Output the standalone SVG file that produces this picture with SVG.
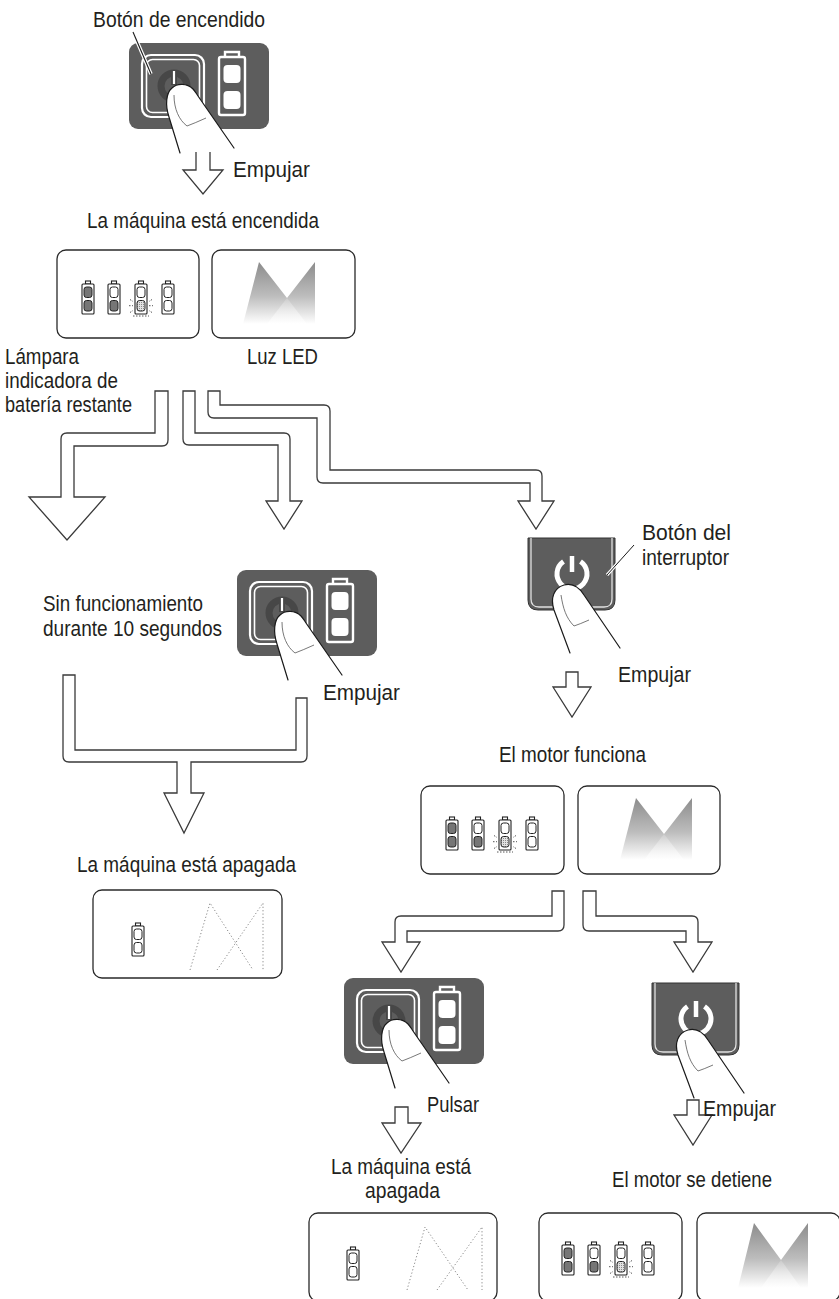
<svg xmlns="http://www.w3.org/2000/svg" xmlns:xlink="http://www.w3.org/1999/xlink" width="839" height="1299" viewBox="0 0 839 1299">
  <style>
    .t { font-family: "Liberation Sans", Arial, sans-serif; font-size: 22.5px; fill: #231f20; }
    .arrow { fill: #fff; stroke: #3a3a3a; stroke-width: 1.3; stroke-linejoin: miter; }
    .frame { fill: #fff; stroke: #2a2a2a; stroke-width: 1.3; }
    .finger { fill: #fff; stroke: none; }
    .finger-line { fill: none; stroke: #1a1a1a; stroke-width: 1.2; stroke-linecap: round; stroke-linejoin: round; }
    .nail { fill: none; stroke: #555; stroke-width: 0.8; }
    .dark { fill: #5d5d5d; }
    .wline { fill: none; stroke: #fff; }
    .dot { fill: none; stroke: #8a8a8a; stroke-width: 1; stroke-dasharray: 1.2 2.2; }
    .bt { fill: #fff; stroke: #222; stroke-width: 1.1; }
    .cell-on { fill: #767676; stroke: #222; stroke-width: 1; }
    .cell-off { fill: #fff; stroke: #222; stroke-width: 1; }
    .ray { fill: none; stroke: #444; stroke-width: 0.9; stroke-dasharray: 1.5 1.5; }
  </style>
  <defs>
    <linearGradient id="beam" x1="0" y1="0" x2="0" y2="1">
      <stop offset="0" stop-color="#8c8c8c"/>
      <stop offset="0.55" stop-color="#bdbdbd"/>
      <stop offset="1" stop-color="#ffffff"/>
    </linearGradient>
    <linearGradient id="beam-core" x1="0" y1="0" x2="0" y2="1">
      <stop offset="0" stop-color="#ffffff" stop-opacity="0.15"/>
      <stop offset="1" stop-color="#ffffff" stop-opacity="0.6"/>
    </linearGradient>
    <pattern id="stipple" width="2" height="2" patternUnits="userSpaceOnUse">
      <rect width="2" height="2" fill="#e2e2e2"/>
      <rect width="1" height="1" fill="#8a8a8a"/>
    </pattern>

    <!-- battery frame: body 12x30 with terminal nub -->
    <g id="bt-frame">
      <rect class="bt" x="3.5" y="-3" width="5" height="3"/>
      <rect class="bt" x="0" y="0" width="12" height="30" rx="1"/>
    </g>
    <g id="bt-full">
      <use xlink:href="#bt-frame"/>
      <rect class="cell-on" x="2" y="3" width="8" height="10.5" rx="2.5"/>
      <rect class="cell-on" x="2" y="16.5" width="8" height="10.5" rx="2.5"/>
    </g>
    <g id="bt-half">
      <use xlink:href="#bt-frame"/>
      <rect class="cell-off" x="2" y="3" width="8" height="10.5" rx="2.5"/>
      <rect class="cell-on" x="2" y="16.5" width="8" height="10.5" rx="2.5"/>
    </g>
    <g id="bt-blink">
      <use xlink:href="#bt-frame"/>
      <rect class="cell-off" x="2" y="3" width="8" height="10.5" rx="2.5"/>
      <rect x="2" y="16.5" width="8" height="10.5" rx="2.5" fill="url(#stipple)" stroke="#222" stroke-width="1"/>
      <path class="ray" d="M-6,21.7 H-2 M14,21.7 H18 M-5,15.5 L-2,17.5 M17,15.5 L14,17.5 M-5,28.5 L-2,26.5 M17,28.5 L14,26.5 M-2,32 H14"/>
    </g>
    <g id="bt-empty">
      <use xlink:href="#bt-frame"/>
      <rect class="cell-off" x="2" y="3" width="8" height="10.5" rx="2.5"/>
      <rect class="cell-off" x="2" y="16.5" width="8" height="10.5" rx="2.5"/>
    </g>

    <!-- finger pressing a button -->
    <g id="finger-a">
      <path class="finger" d="M51,110 L40,74 C36,62 37,50 43,45 C48,40 58,40 64,46 C66,48 67,50 69,53 L105,105 Z"/>
      <path class="finger-line" d="M51,110 L40,74 C36,62 37,50 43,45 C48,40 58,40 64,46 C66,48 67,50 69,53 L105,105"/>
      <path class="nail" d="M45,52 C45,66 50,77 58,83 Q66,80 77,75"/>
    </g>

    <!-- control panel with power button and battery gauge -->
    <g id="power-panel">
      <rect class="dark" x="0" y="0" width="140" height="86" rx="9"/>
      <rect class="wline" x="13" y="12" width="62" height="62" rx="9" stroke-width="2.2"/>
      <rect class="wline" x="17.5" y="16.5" width="53" height="53" rx="6" stroke-width="1.6"/>
      <circle cx="45" cy="43" r="13" fill="none" stroke="#474747" stroke-width="7"/>
      <line x1="45" y1="27" x2="45" y2="42" stroke="#474747" stroke-width="6"/>
      <line x1="45" y1="28" x2="45" y2="41" stroke="#fff" stroke-width="2.2"/>
      <path class="wline" stroke-width="2.4" d="M96,14 V9 H110 V14"/>
      <rect class="wline" x="90" y="14" width="26" height="58" rx="2" stroke-width="2.4"/>
      <rect x="94.5" y="22" width="17" height="18" rx="4" fill="#fff"/>
      <rect x="94.5" y="48" width="17" height="18" rx="4" fill="#fff"/>
      <use xlink:href="#finger-a"/>
    </g>

    <!-- motor switch with finger -->
    <g id="switch-panel">
      <path d="M0,0 V62 Q0,72 10,72 H77 Q87,72 87,62 V0 Z" fill="#5d5d5d" stroke="#333" stroke-width="1"/>
      <path d="M3,0 V61 Q3,69 11,69 H76 Q84,69 84,61 V0" fill="none" stroke="#e0e0e0" stroke-width="1.3"/>
      <path d="M35.5,23.5 A15,15 0 1 0 52.5,23.5" fill="none" stroke="#fff" stroke-width="5"/>
      <line x1="44" y1="18" x2="44" y2="34" stroke="#fff" stroke-width="4.5"/>
      <path class="finger" d="M42,115 L26,72 C22,60 26,50 36,47 C44,45 51,49 56,57 L92,110 Z"/>
      <path class="finger-line" d="M42,115 L26,72 C22,60 26,50 36,47 C44,45 51,49 56,57 L92,110"/>
      <path class="nail" d="M33,57 C35,70 38,80 46,88 Q52,86 61,82"/>
    </g>
  </defs>

  <!-- flow connectors -->
  <g id="connectors">
    <path class="arrow" d="M196,152 V170 H183 L203,194 L223,170 H210 V152"/>
    <path class="arrow" d="M155,391 H168 V440 Q168,446 162,446 H74 V497 H105 L67,540 L29,497 H61 V439 Q61,433 67,433 H155 Z"/>
    <path class="arrow" d="M183,391 H195 V433 H284 Q290,433 290,439 V501 H302 L284,529 L266,501 H278 V445 H189 Q183,445 183,439 Z"/>
    <path class="arrow" d="M208,391 H220 V405 H324 Q330,405 330,411 V470 H536 Q542,470 542,476 V501 H554 L536,529 L518,501 H530 V483 H323 Q317,483 317,477 V418 H214 Q208,418 208,412 Z"/>
    <path class="arrow" d="M63,675 H75 V750 H296 V698 H307 V756 Q307,762 301,762 H191 V793 H204 L184,833 L164,793 H177 V762 H69 Q63,762 63,756 Z"/>
    <path class="arrow" d="M566,672 H578 V687 H591 L572,717 L553,687 H566 Z"/>
    <path class="arrow" d="M552,891 H564 V925 Q564,931 558,931 H407 V942 H420 L401,972 L382,942 H395 V922 Q395,916 401,916 H552 Z"/>
    <path class="arrow" d="M583,891 H596 V916 H692 Q698,916 698,922 V942 H712 L693,972 L674,942 H686 V931 H589 Q583,931 583,925 Z"/>
    <path class="arrow" d="M395,1107 H408 V1123 H421 L401,1153 L382,1123 H395 Z"/>
    <path class="arrow" d="M687,1100 H699 V1115 H712 L693,1145 L674,1115 H687 Z"/>
  </g>

  <!-- power button at start -->
  <g id="power-start">
    <use xlink:href="#power-panel" x="129" y="43"/>
    <line x1="133" y1="32" x2="151" y2="74" stroke="#fff" stroke-width="3.5"/>
    <line x1="133" y1="32" x2="151" y2="74" stroke="#1a1a1a" stroke-width="1.1"/>
    <text class="t" x="93" y="27" textLength="172" lengthAdjust="spacingAndGlyphs">Botón de encendido</text>
    <text class="t" x="233" y="177" textLength="77" lengthAdjust="spacingAndGlyphs">Empujar</text>
  </g>

  <g id="state-on">
    <text class="t" x="87" y="228" textLength="232" lengthAdjust="spacingAndGlyphs">La máquina está encendida</text>
  </g>

  <g id="gauge-on">
    <rect class="frame" x="57" y="250" width="142" height="88" rx="9"/>
    <use xlink:href="#bt-full" x="82" y="284"/>
    <use xlink:href="#bt-half" x="108" y="284"/>
    <use xlink:href="#bt-blink" x="135" y="284"/>
    <use xlink:href="#bt-empty" x="162" y="284"/>
    <text class="t" x="5" y="364" textLength="74" lengthAdjust="spacingAndGlyphs">Lámpara</text>
    <text class="t" x="5" y="388" textLength="113" lengthAdjust="spacingAndGlyphs">indicadora de</text>
    <text class="t" x="5" y="412" textLength="127" lengthAdjust="spacingAndGlyphs">batería restante</text>
  </g>

  <g id="led-on">
    <rect class="frame" x="212" y="250" width="143" height="88" rx="9"/>
    <polygon points="243,324 259,262 287,298 315,262 315,324" fill="url(#beam)"/>
    <polygon points="267,324 287,298 307,324" fill="url(#beam-core)"/>
    <text class="t" x="247" y="364" textLength="71" lengthAdjust="spacingAndGlyphs">Luz LED</text>
  </g>

  <g id="idle">
    <text class="t" x="43" y="611" textLength="160" lengthAdjust="spacingAndGlyphs">Sin funcionamiento</text>
    <text class="t" x="43" y="636" textLength="179" lengthAdjust="spacingAndGlyphs">durante 10 segundos</text>
  </g>

  <g id="power-off-press">
    <use xlink:href="#power-panel" x="237" y="570"/>
    <text class="t" x="323" y="700" textLength="77" lengthAdjust="spacingAndGlyphs">Empujar</text>
  </g>

  <g id="switch-start">
    <use xlink:href="#switch-panel" x="528" y="538"/>
    <line x1="607" y1="575" x2="634" y2="545" stroke="#fff" stroke-width="3.2"/>
    <line x1="607" y1="575" x2="634" y2="545" stroke="#1a1a1a" stroke-width="1"/>
    <text class="t" x="642" y="540" textLength="89" lengthAdjust="spacingAndGlyphs">Botón del</text>
    <text class="t" x="642" y="565" textLength="87" lengthAdjust="spacingAndGlyphs">interruptor</text>
    <text class="t" x="618" y="682" textLength="73" lengthAdjust="spacingAndGlyphs">Empujar</text>
  </g>

  <g id="state-off-1">
    <text class="t" x="77" y="872" textLength="219" lengthAdjust="spacingAndGlyphs">La máquina está apagada</text>
    <rect class="frame" x="93" y="890" width="189" height="88" rx="9"/>
    <use xlink:href="#bt-empty" x="132" y="926"/>
    <polyline class="dot" points="190,970 210,903 253,970"/>
    <polyline class="dot" points="217,970 263,903 263,970"/>
  </g>

  <g id="motor-run">
    <text class="t" x="499" y="762" textLength="147" lengthAdjust="spacingAndGlyphs">El motor funciona</text>
    <rect class="frame" x="421" y="786" width="143" height="88" rx="9"/>
    <use xlink:href="#bt-full" x="446" y="820"/>
    <use xlink:href="#bt-half" x="472" y="820"/>
    <use xlink:href="#bt-blink" x="499" y="820"/>
    <use xlink:href="#bt-empty" x="526" y="820"/>
    <rect class="frame" x="578" y="786" width="142" height="88" rx="9"/>
    <polygon points="620,860 636,798 664,834 692,798 692,860" fill="url(#beam)"/>
    <polygon points="644,860 664,834 684,860" fill="url(#beam-core)"/>
  </g>

  <g id="power-off-2">
    <use xlink:href="#power-panel" x="344" y="978"/>
    <text class="t" x="427" y="1112" textLength="52" lengthAdjust="spacingAndGlyphs">Pulsar</text>
  </g>

  <g id="switch-stop">
    <use xlink:href="#switch-panel" x="652" y="983"/>
    <text class="t" x="703" y="1116" textLength="73" lengthAdjust="spacingAndGlyphs">Empujar</text>
  </g>

  <g id="state-off-2">
    <text class="t" x="331" y="1174" textLength="140" lengthAdjust="spacingAndGlyphs">La máquina está</text>
    <text class="t" x="365" y="1198" textLength="75" lengthAdjust="spacingAndGlyphs">apagada</text>
    <rect class="frame" x="309" y="1213" width="188" height="88" rx="9"/>
    <use xlink:href="#bt-empty" x="347" y="1250"/>
    <polyline class="dot" points="407,1290 425,1227 468,1290"/>
    <polyline class="dot" points="437,1290 482,1227 482,1290"/>
  </g>

  <g id="motor-stop">
    <text class="t" x="612" y="1187" textLength="160" lengthAdjust="spacingAndGlyphs">El motor se detiene</text>
    <rect class="frame" x="539" y="1213" width="143" height="88" rx="9"/>
    <use xlink:href="#bt-full" x="562" y="1245"/>
    <use xlink:href="#bt-half" x="588" y="1245"/>
    <use xlink:href="#bt-blink" x="615" y="1245"/>
    <use xlink:href="#bt-empty" x="642" y="1245"/>
    <rect class="frame" x="697" y="1213" width="143" height="88" rx="9"/>
    <polygon points="738,1288 754,1223 781,1260 808,1223 808,1288" fill="url(#beam)"/>
    <polygon points="761,1288 781,1260 801,1288" fill="url(#beam-core)"/>
  </g>
</svg>
